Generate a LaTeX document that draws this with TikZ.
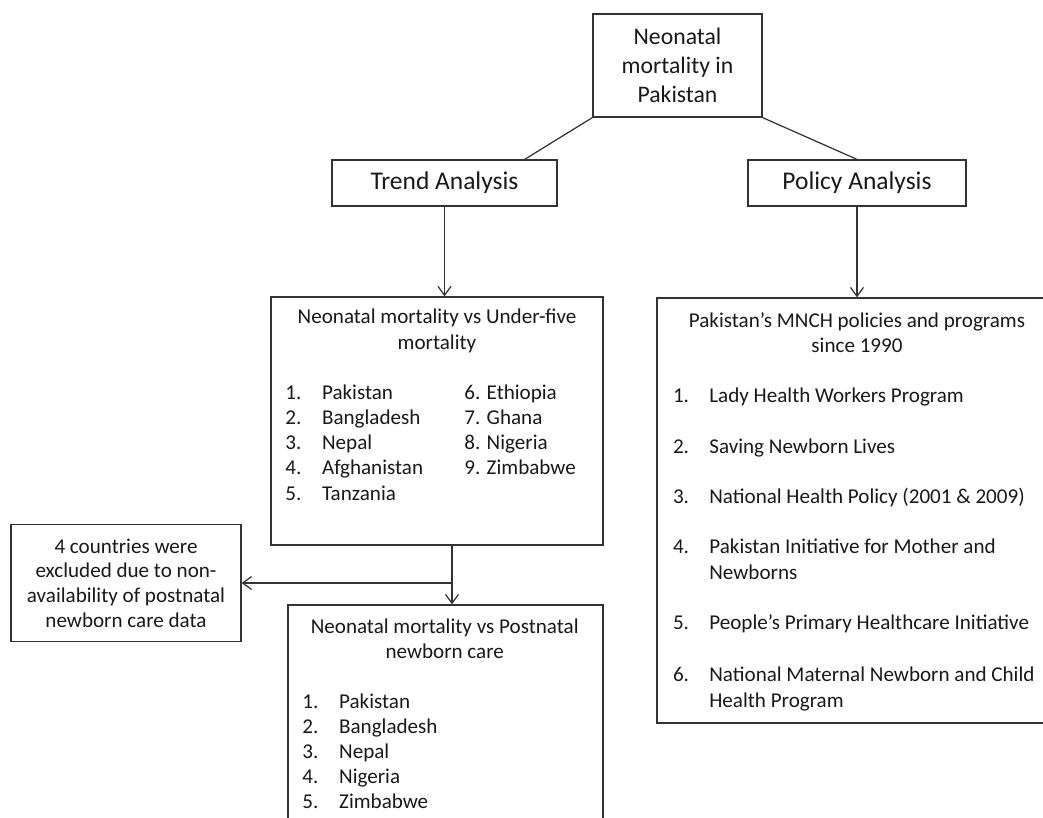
\documentclass[tikz,border=0pt]{standalone}
\usepackage{fontspec}
\setmainfont{Carlito}
\usetikzlibrary{arrows.meta,calc}

\tikzset{
  box/.style={draw=black!80, line width=0.7pt, inner sep=0pt, text=black!90},
  link/.style={draw=black!80, line width=0.7pt},
  arrow/.style={link, -{Straight Barb[length=1.8mm,width=2.6mm]}},
  body/.style={font=\fontsize{12}{14.4}\selectfont, text=black!90, inner sep=0pt},
  head/.style={font=\fontsize{14.5}{17}\selectfont},
}

\begin{document}
\begin{tikzpicture}[x=0.2mm,y=-0.2mm]
\useasboundingbox (0,0) rectangle (1043,818);

% top of the tree
\node[box, minimum width=33.8mm, minimum height=20.6mm, align=center,
      font=\fontsize{13.5}{16.5}\selectfont] (top) at (677.5,65.5) {Neonatal\\mortality in\\Pakistan};

\node[box, head, minimum width=45mm, minimum height=9.2mm] (trend) at (444.5,183) {Trend Analysis};
\node[box, head, minimum width=43.6mm, minimum height=9.2mm] (policy) at (857,183) {Policy Analysis};

\draw[link] (top.south west) -- ($(trend.north east)+(-33,0)$);
\draw[link] (top.south east) -- (policy.north);

% list boxes
\node[box, minimum width=66.4mm, minimum height=49.6mm] (trendlist) at (437,421) {};
\node[box, minimum width=78.2mm, minimum height=85mm] (policylist) at (852.5,510.5) {};
\node[box, minimum width=63mm, minimum height=46mm] (postlist) at (445.5,720) {};
\node[box, body, minimum width=46mm, minimum height=23.4mm, align=center,
      font=\fontsize{12}{14}\selectfont] (excluded) at (126,583)
  {4 countries were\\excluded due to non-\\availability of postnatal\\newborn care data};

\draw[arrow] (trend.south) -- (trend.south |- trendlist.north);
\draw[arrow] (policy.south) -- (policy.south |- policylist.north);

\coordinate (split) at (452,583);
\draw[link] (trendlist.south -| split) -- (split);
\draw[arrow] (split) -- (postlist.north -| split);
\draw[arrow] (split) -- (excluded.east);

% trend list
\node[body, align=center] (tl-head) at (437,331) {Neonatal mortality vs Under-five\\mortality};
\foreach \name [count=\i] in {Pakistan,Bangladesh,Nepal,Afghanistan,Tanzania} {
  \node[body, anchor=base west] (tl-num-\i) at (285,{399+25.3*(\i-1)}) {\i.};
  \node[body, anchor=base west] (tl-name-\i) at (321.7,{399+25.3*(\i-1)}) {\name};
}
\foreach \name [count=\i from 6] in {Ethiopia,Ghana,Nigeria,Zimbabwe} {
  \node[body, anchor=base west] (tl-name-\i) at (464,{399+25.3*(\i-6)}) {\i. \name};
}

% policy list
\node[body, align=center] (pl-head) at (857,332.5) {Pakistan’s MNCH policies and programs\\since 1990};
\foreach \i/\yy/\txt in {1/402/{Lady Health Workers Program},
                         2/453/{Saving Newborn Lives},
                         3/503/{National Health Policy (2001 \& 2009)},
                         4/553/{Pakistan Initiative for Mother and},
                         5/629/{People’s Primary Healthcare Initiative},
                         6/681/{National Maternal Newborn and Child}} {
  \node[body, anchor=base west] (pl-num-\i) at (672.7,\yy) {\i.};
  \node[body, anchor=base west] (pl-name-\i) at (709,\yy) {\txt};
}
\node[body, anchor=base west] (pl-more-4) at (709,579) {Newborns};
\node[body, anchor=base west] (pl-more-6) at (709,707) {Health Program};

% postnatal list
\node[body, align=center] (nl-head) at (444.7,638.5) {Neonatal mortality vs Postnatal\\newborn care};
\foreach \name [count=\i] in {Pakistan,Bangladesh,Nepal,Nigeria,Zimbabwe} {
  \node[body, anchor=base west] (nl-num-\i) at (302,{708+25*(\i-1)}) {\i.};
  \node[body, anchor=base west] (nl-name-\i) at (338.8,{708+25*(\i-1)}) {\name};
}
\end{tikzpicture}
\end{document}
